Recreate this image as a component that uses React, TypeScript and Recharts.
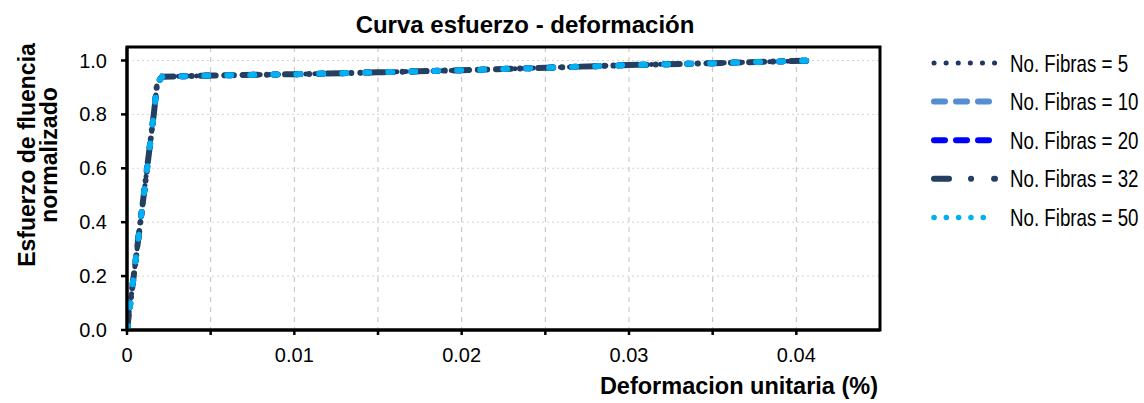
import { CartesianGrid, Line, LineChart, ReferenceArea, XAxis, YAxis } from "recharts";

// strain (%) points shared by the five curves
const strain = [0, 0.0004, 0.0008, 0.0012, 0.0016, 0.0018, 0.0021, 0.005, 0.01, 0.015, 0.02, 0.025, 0.03, 0.035, 0.041];

// normalized yield stress, one list per fibre count
const stress5 = [0, 0.2, 0.4, 0.6, 0.8, 0.915, 0.94, 0.944, 0.949, 0.956, 0.964, 0.973, 0.983, 0.99, 1.0];
const stress10 = [0, 0.2, 0.4, 0.6, 0.8, 0.915, 0.94, 0.944, 0.949, 0.956, 0.964, 0.973, 0.983, 0.99, 1.0];
const stress20 = [0, 0.2, 0.4, 0.6, 0.8, 0.915, 0.94, 0.944, 0.949, 0.956, 0.964, 0.973, 0.983, 0.99, 1.0];
const stress32 = [0, 0.2, 0.4, 0.6, 0.8, 0.915, 0.94, 0.944, 0.949, 0.956, 0.964, 0.973, 0.983, 0.99, 1.0];
const stress50 = [0, 0.2, 0.4, 0.6, 0.8, 0.915, 0.94, 0.944, 0.949, 0.956, 0.964, 0.973, 0.983, 0.99, 1.0];

const seriesNames = ["No. Fibras = 5", "No. Fibras = 10", "No. Fibras = 20", "No. Fibras = 32", "No. Fibras = 50"];

const xTicks = [0, 0.005, 0.01, 0.015, 0.02, 0.025, 0.03, 0.035, 0.04];
const yTicks = [0, 0.2, 0.4, 0.6, 0.8, 1.0];

const toRows = (ys: number[]) => strain.map((x, i) => ({ x, y: ys[i] }));

const series = [
    { name: seriesNames[0], data: toRows(stress5), color: "#1F3864", width: 5, dash: "0.1 9", legendDash: "0.1 12", legendWidth: 5 },
    { name: seriesNames[1], data: toRows(stress10), color: "#558ED5", width: 6, dash: "4 19", legendDash: "11 11", legendWidth: 6 },
    { name: seriesNames[2], data: toRows(stress20), color: "#0000FF", width: 6, dash: "4 19", legendDash: "11 11", legendWidth: 6 },
    { name: seriesNames[3], data: toRows(stress32), color: "#243F60", width: 6, dash: "15 9 0.1 9 0.1 9", legendDash: "15 22 0.1 23", legendWidth: 6 },
    { name: seriesNames[4], data: toRows(stress50), color: "#00B0F0", width: 6, dash: "4 19", legendDash: "0.1 12.2", legendWidth: 5.5 },
];

const font = "'Liberation Sans', Arial, sans-serif";

const fmtX = (v: number) => {
    if (v === 0) return "0";
    return Math.round(v * 1000) % 10 === 0 ? v.toFixed(2) : "";
};

export default function App() {
    return (
        <div style={{ width: 1144, height: 403, padding: 8, boxSizing: "border-box", background: "#fff" }}>
            <style>{"body{margin:0;overflow:hidden}"}</style>
            <div style={{ position: "relative", width: 1136, height: 395 }}>
                <LineChart width={1136} height={395} margin={{ top: 39, right: 264, left: 59, bottom: 43 }}>
                    <CartesianGrid horizontal={false} stroke="#c0c0c0" strokeDasharray="5 5" />
                    <CartesianGrid vertical={false} stroke="#d4d4d4" strokeDasharray="2 3" />
                    <XAxis
                        dataKey="x"
                        type="number"
                        domain={[0, 0.045]}
                        ticks={xTicks}
                        tickFormatter={fmtX}
                        allowDataOverflow
                        height={30}
                        tickSize={5}
                        tickMargin={13}
                        axisLine={{ stroke: "#000", strokeWidth: 3 }}
                        tickLine={{ stroke: "#000", strokeWidth: 2.5 }}
                        tick={{ fill: "#000", fontSize: 20, fontFamily: font }}
                    />
                    <YAxis
                        type="number"
                        domain={[0, 1.05]}
                        ticks={yTicks}
                        tickFormatter={(v: number) => v.toFixed(1)}
                        allowDataOverflow
                        width={60}
                        tickSize={6}
                        tickMargin={14}
                        axisLine={{ stroke: "#000", strokeWidth: 3 }}
                        tickLine={{ stroke: "#000", strokeWidth: 2.5 }}
                        tick={{ fill: "#000", fontSize: 20, fontFamily: font }}
                    />
                    <ReferenceArea x1={0} x2={0.045} y1={0} y2={1.05} fill="none" stroke="#000" strokeWidth={3} ifOverflow="visible" />
                    {series.map((s) => (
                        <Line
                            key={s.name}
                            data={s.data}
                            dataKey="y"
                            name={s.name}
                            type="linear"
                            stroke={s.color}
                            strokeWidth={s.width}
                            strokeDasharray={s.dash}
                            strokeLinecap="round"
                            dot={false}
                            activeDot={false}
                            isAnimationActive={false}
                        />
                    ))}
                </LineChart>
                <svg width={1136} height={395} style={{ position: "absolute", left: 0, top: 0, pointerEvents: "none" }}>
                    <text x={517} y={25} textAnchor="middle" fontFamily={font} fontWeight="bold" fontSize={24} fill="#000">
                        Curva esfuerzo - deformación
                    </text>
                    <text x={870} y={386} textAnchor="end" fontFamily={font} fontWeight="bold" fontSize={23.5} fill="#000">
                        Deformacion unitaria (%)
                    </text>
                    <g transform="translate(0,147) rotate(-90)" fontFamily={font} fontWeight="bold" fontSize={23} fill="#000">
                        <text x={0} y={27} textAnchor="middle">Esfuerzo de fluencia</text>
                        <text x={0} y={49} textAnchor="middle">normalizado</text>
                    </g>
                    {series.map((s, i) => {
                        const y = 55 + i * 38.6;
                        return (
                            <g key={s.name}>
                                <line
                                    x1={926}
                                    x2={987}
                                    y1={y}
                                    y2={y}
                                    stroke={s.color}
                                    strokeWidth={s.legendWidth}
                                    strokeDasharray={s.legendDash}
                                    strokeLinecap="round"
                                />
                                <text
                                    transform={`translate(1002,${y + 8.5}) scale(0.78,1)`}
                                    fontFamily={font}
                                    fontSize={24}
                                    fill="#000"
                                >
                                    {s.name}
                                </text>
                            </g>
                        );
                    })}
                </svg>
            </div>
        </div>
    );
}
